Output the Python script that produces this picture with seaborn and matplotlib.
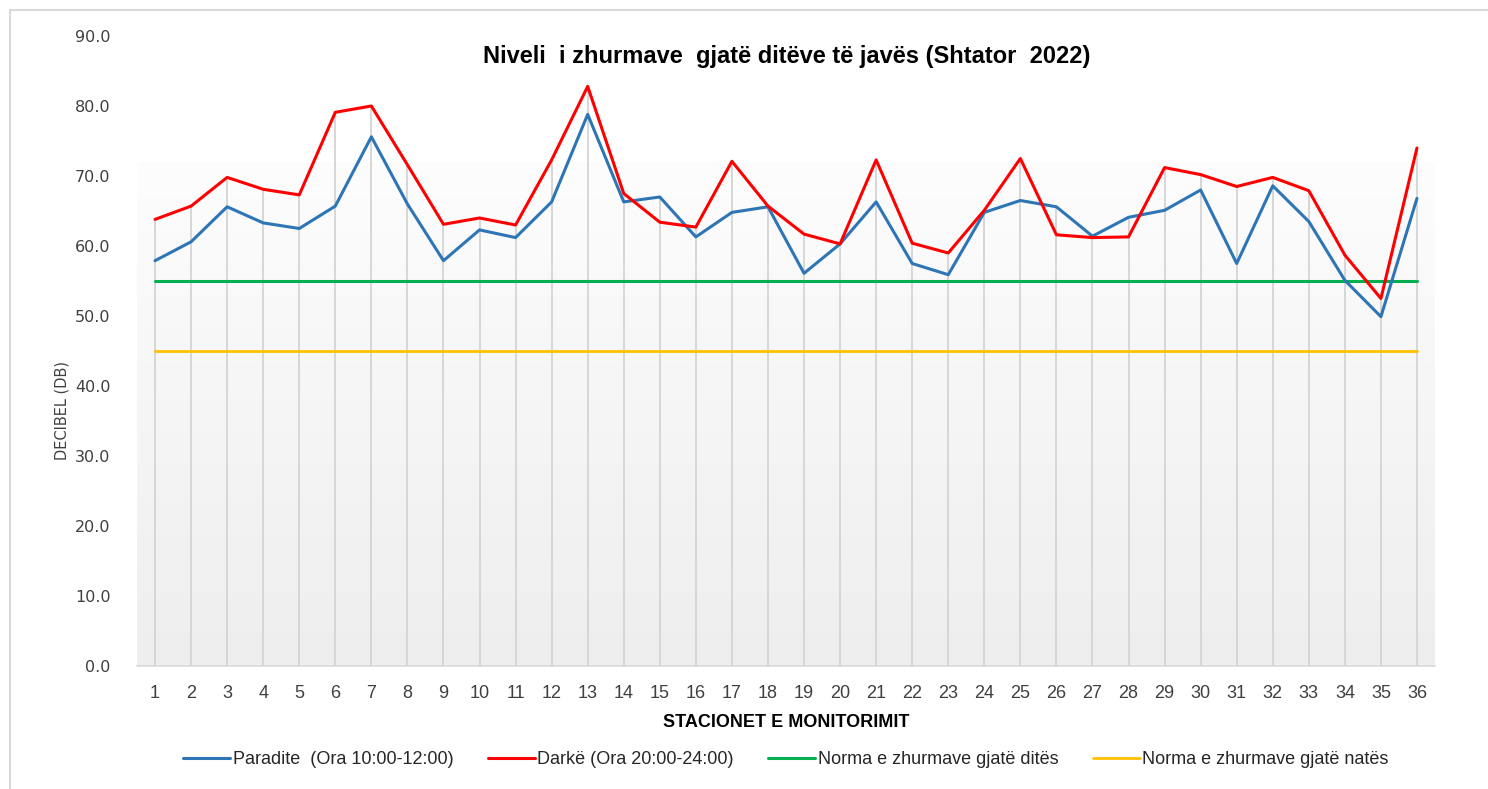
import numpy as np
import pandas as pd
import seaborn as sns
import matplotlib.pyplot as plt
from matplotlib import font_manager

# station numbers and measured noise levels (dB)
stations = list(range(1, 37))
paradite = [57.9, 60.6, 65.6, 63.3, 62.5, 65.7, 75.6, 66.0, 57.9, 62.3,
            61.2, 66.3, 78.8, 66.3, 67.0, 61.3, 64.8, 65.6, 56.1, 60.3,
            66.3, 57.5, 55.9, 64.8, 66.5, 65.6, 61.4, 64.1, 65.1, 68.0,
            57.5, 68.6, 63.5, 55.1, 49.9, 66.8]
darke = [63.8, 65.7, 69.8, 68.1, 67.3, 79.1, 80.0, 71.6, 63.1, 64.0,
         63.0, 72.3, 82.8, 67.5, 63.4, 62.7, 72.1, 65.7, 61.7, 60.3,
         72.3, 60.4, 59.0, 65.1, 72.5, 61.6, 61.2, 61.3, 71.2, 70.2,
         68.5, 69.8, 67.9, 58.7, 52.5, 74.0]
norm_day = 55
norm_night = 45

labels = ["Paradite  (Ora 10:00-12:00)", "Darkë (Ora 20:00-24:00)",
          "Norma e zhurmave gjatë ditës", "Norma e zhurmave gjatë natës"]
colors = ["#2E75B6", "#FF0000", "#00B050", "#FFC000"]

sns.set_theme(style="white")
names = {f.name for f in font_manager.fontManager.ttflist}
narrow = "Liberation Sans Narrow" if "Liberation Sans Narrow" in names else "Liberation Sans"
plt.rcParams["font.family"] = [narrow, "DejaVu Sans"]

df = pd.DataFrame({"station": stations, "paradite": paradite, "darke": darke})

fig = plt.figure(figsize=(14.88, 7.89), dpi=100)
ax = fig.add_axes([137 / 1488, 1 - 666 / 789, (1435 - 137) / 1488, 630 / 789])

# soft grey gradient behind the lines
grad = np.linspace(0, 1, 256).reshape(-1, 1)
ax.imshow(grad, extent=[0.5, 36.5, 0, 72], aspect="auto", origin="upper",
          cmap=sns.blend_palette(["#fdfdfd", "#eeeeee"], as_cmap=True), zorder=0)

# drop lines from highest series to the axis
top = np.maximum(df["paradite"], df["darke"])
ax.vlines(df["station"], 0, top, color="#d4d4d4", lw=1.3, zorder=1)

sns.lineplot(data=df, x="station", y="paradite", color=colors[0], lw=2.2, ax=ax, label=labels[0], zorder=3)
sns.lineplot(data=df, x="station", y="darke", color=colors[1], lw=2.2, ax=ax, label=labels[1], zorder=3)
sns.lineplot(x=stations, y=[norm_day] * len(stations), color=colors[2], lw=2.2, ax=ax, label=labels[2], zorder=2)
sns.lineplot(x=stations, y=[norm_night] * len(stations), color=colors[3], lw=2.0, ax=ax, label=labels[3], zorder=2)

ax.set_xlim(0.5, 36.5)
ax.set_ylim(0, 90)
ax.set_xticks(stations)
ax.set_xticklabels([str(s) for s in stations], fontsize=13, color="#404040")
ax.set_yticks(range(0, 91, 10))
ax.set_yticklabels([f"{v:.1f}" for v in range(0, 91, 10)], fontsize=11.5,
                   color="#404040", family="DejaVu Sans")
ax.tick_params(axis="x", length=0, pad=14)
ax.tick_params(axis="y", length=0, pad=19)
for s in ["top", "right", "left"]:
    ax.spines[s].set_visible(False)
ax.spines["bottom"].set_color("#d9d9d9")
ax.spines["bottom"].set_linewidth(1.2)

ax.set_xlabel("STACIONET E MONITORIMIT", fontsize=13, fontweight="bold", color="#000000", labelpad=8)
ax.set_ylabel("DECIBEL (DB)", fontsize=10.5, color="#404040", family="DejaVu Sans", labelpad=8)
ax.yaxis.set_label_coords(-0.052, 0.406)

fig.text(0.529, 1 - 56 / 789, "Niveli  i zhurmave  gjatë ditëve të javës (Shtator  2022)",
         ha="center", va="center", fontsize=17, fontweight="bold", color="#000000")

ax.legend(loc="center", bbox_to_anchor=(0.5, -0.149), ncol=4, frameon=False,
          fontsize=13, handlelength=2.6, handletextpad=0.15, columnspacing=1.9,
          labelcolor="#262626")

# thin frame around chart
fig.add_artist(plt.Line2D([10 / 1488, 10 / 1488], [0, 1 - 10 / 789], color="#d9d9d9", lw=1.5))
fig.add_artist(plt.Line2D([10 / 1488, 1], [1 - 10 / 789, 1 - 10 / 789], color="#d9d9d9", lw=1.5))

fig.savefig("out.png", dpi=100, facecolor="white")
